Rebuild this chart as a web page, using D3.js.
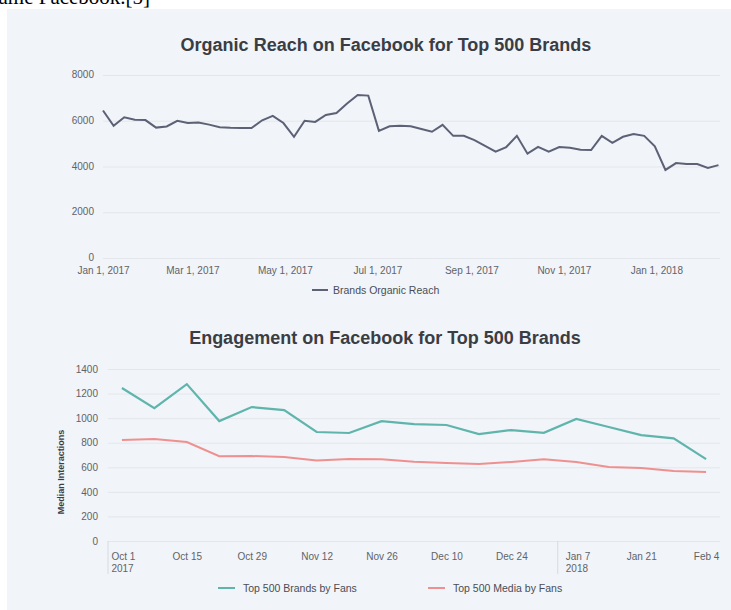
<!DOCTYPE html>
<html>
<head>
<meta charset="utf-8">
<script src="https://cdn.jsdelivr.net/npm/d3@7"></script>
<style>
  body { margin: 0; background: #fff; }
  text { font-family: "Liberation Sans", Arial, sans-serif; }
</style>
</head>
<body>
<div id="chart"></div>
<script>
// Organic reach, weekly values from Jan 1, 2017
var reachStart = "2017-01-01";
var reachValues = [6450, 5780, 6150, 6040, 6030, 5700, 5750, 6000, 5900, 5920,
  5830, 5720, 5690, 5680, 5680, 6020, 6210, 5900, 5300, 6000,
  5950, 6250, 6340, 6750, 7130, 7100, 5560, 5760, 5780, 5760,
  5640, 5520, 5820, 5340, 5340, 5150, 4900, 4650, 4850, 5340,
  4560, 4860, 4650, 4850, 4820, 4730, 4720, 5340, 5030, 5300,
  5420, 5340, 4880, 3850, 4150, 4110, 4110, 3940, 4060];
var reachTicks = ["2017-01-01", "2017-03-01", "2017-05-01", "2017-07-01", "2017-09-01", "2017-11-01", "2018-01-01"];
var reachYTicks = [0, 2000, 4000, 6000, 8000];

// Engagement, weekly
var engDates = ["2017-10-01", "2017-10-08", "2017-10-15", "2017-10-22", "2017-10-29", "2017-11-05",
  "2017-11-12", "2017-11-19", "2017-11-26", "2017-12-03", "2017-12-10", "2017-12-17",
  "2017-12-24", "2017-12-31", "2018-01-07", "2018-01-14", "2018-01-21", "2018-01-28", "2018-02-04"];
var brandsFans = [1245, 1082, 1277, 976, 1090, 1066, 887, 879, 975, 952, 944, 870, 903, 880, 993, 928, 862, 835, 667];
var mediaFans = [822, 830, 806, 690, 692, 683, 655, 667, 665, 645, 635, 626, 643, 665, 643, 602, 594, 570, 562];
var engTicks = ["2017-10-01", "2017-10-15", "2017-10-29", "2017-11-12", "2017-11-26", "2017-12-10",
  "2017-12-24", "2018-01-07", "2018-01-21", "2018-02-04"];
var engYTicks = [0, 200, 400, 600, 800, 1000, 1200, 1400];

var parse = d3.timeParse("%Y-%m-%d");

var svg = d3.select("#chart").append("svg")
  .attr("width", 731)
  .attr("height", 610);

// bit of the page text above the image
svg.append("text")
  .attr("x", -12)
  .attr("y", 4)
  .style("font-family", "'Liberation Serif', 'Times New Roman', serif")
  .style("font-size", "21px")
  .attr("fill", "#000")
  .text("name Facebook.[5]");

svg.append("rect")
  .attr("x", 7).attr("y", 9)
  .attr("width", 724).attr("height", 601)
  .attr("fill", "#f1f4f8");

var grid = "#e3e6eb", tickCol = "#5f6368";

// ---------- top chart ----------
var x1 = d3.scaleTime()
  .domain([parse("2017-01-01"), parse("2018-02-12")])
  .range([103, 720]);
var y1 = d3.scaleLinear().domain([0, 8000]).range([258, 75]);

var reach = reachValues.map((v, i) => ({date: d3.timeDay.offset(parse(reachStart), 7 * i), v: v}));

svg.append("g")
  .attr("transform", "translate(103,0)")
  .call(d3.axisLeft(y1).tickValues(reachYTicks).tickSize(-617).tickFormat(d3.format("d")))
  .call(g => g.select(".domain").remove())
  .call(g => g.selectAll("line").attr("stroke", grid))
  .call(g => g.selectAll("text").attr("x", -9).attr("dy", "0.25em").attr("fill", tickCol).style("font-size", "10px"));

svg.append("g")
  .attr("transform", "translate(0,258)")
  .call(d3.axisBottom(x1).tickValues(reachTicks.map(parse)).tickSize(0).tickFormat(d3.timeFormat("%b %-d, %Y")))
  .call(g => g.select(".domain").remove())
  .call(g => g.selectAll("text").attr("dy", "1.25em").attr("fill", tickCol).style("font-size", "10px"));

svg.append("path")
  .datum(reach)
  .attr("fill", "none")
  .attr("stroke", "#5c6176")
  .attr("stroke-width", 2)
  .attr("d", d3.line().x(d => x1(d.date)).y(d => y1(d.v)));

svg.append("text")
  .attr("x", 386).attr("y", 51)
  .attr("text-anchor", "middle")
  .style("font-size", "18px").style("font-weight", "bold")
  .attr("fill", "#3a3d44")
  .text("Organic Reach on Facebook for Top 500 Brands");

svg.append("line")
  .attr("x1", 312).attr("x2", 328).attr("y1", 290).attr("y2", 290)
  .attr("stroke", "#5c6176").attr("stroke-width", 2);
svg.append("text")
  .attr("x", 333).attr("y", 294)
  .style("font-size", "10.5px").attr("fill", "#4a4d55")
  .text("Brands Organic Reach");

// ---------- bottom chart ----------
var x2 = d3.scaleTime()
  .domain([parse("2017-09-28"), parse("2018-02-07")])
  .range([108, 720]);
var y2 = d3.scaleLinear().domain([0, 1400]).range([541, 369]);

svg.append("g")
  .attr("transform", "translate(108,0)")
  .call(d3.axisLeft(y2).tickValues(engYTicks).tickSize(-612).tickFormat(d3.format("d")))
  .call(g => g.select(".domain").remove())
  .call(g => g.selectAll("line").attr("stroke", grid))
  .call(g => g.selectAll("text").attr("x", -10).attr("fill", tickCol).style("font-size", "10px"));

// year dividers
svg.selectAll(".divider")
  .data([parse("2017-09-28"), parse("2018-01-03")])
  .enter().append("line")
  .attr("x1", d => x2(d)).attr("x2", d => x2(d))
  .attr("y1", 541).attr("y2", 574)
  .attr("stroke", "#d8dbe1");

var xa = svg.append("g")
  .attr("transform", "translate(0,541)")
  .call(d3.axisBottom(x2).tickValues(engTicks.map(parse)).tickSize(0).tickFormat(d3.timeFormat("%b %-d")))
  .call(g => g.select(".domain").remove());
xa.selectAll("text")
  .attr("dy", "1.6em").attr("fill", tickCol).style("font-size", "10px")
  .each(function(d, i) {
    if (i === 0 || d.getMonth() === 0 && d.getDate() <= 7) {
      var t = d3.select(this);
      t.attr("text-anchor", "start").attr("x", -11);
      t.append("tspan").attr("x", -11).attr("dy", "1.15em").text(d3.timeFormat("%Y")(d));
    }
  });

var eng = engDates.map((d, i) => ({date: parse(d), a: brandsFans[i], b: mediaFans[i]}));

svg.append("path")
  .datum(eng)
  .attr("fill", "none")
  .attr("stroke", "#ef9090")
  .attr("stroke-width", 2)
  .attr("d", d3.line().x(d => x2(d.date)).y(d => y2(d.b)));

svg.append("path")
  .datum(eng)
  .attr("fill", "none")
  .attr("stroke", "#5fb5ac")
  .attr("stroke-width", 2.2)
  .attr("d", d3.line().x(d => x2(d.date)).y(d => y2(d.a)));

svg.append("text")
  .attr("x", 385).attr("y", 344)
  .attr("text-anchor", "middle")
  .style("font-size", "18px").style("font-weight", "bold")
  .attr("fill", "#3a3d44")
  .text("Engagement on Facebook for Top 500 Brands");

svg.append("text")
  .attr("transform", "translate(64,472) rotate(-90)")
  .attr("text-anchor", "middle")
  .style("font-size", "9px").style("font-weight", "bold")
  .attr("fill", "#3a3d44")
  .text("Median Interactions");

var legend = [
  {name: "Top 500 Brands by Fans", color: "#5fb5ac", x: 218},
  {name: "Top 500 Media by Fans", color: "#ef9090", x: 428}
];
legend.forEach(function(l) {
  svg.append("line")
    .attr("x1", l.x).attr("x2", l.x + 17).attr("y1", 588).attr("y2", 588)
    .attr("stroke", l.color).attr("stroke-width", 2);
  svg.append("text")
    .attr("x", l.x + 25).attr("y", 592)
    .style("font-size", "10.5px").attr("fill", "#4a4d55")
    .text(l.name);
});
</script>
</body>
</html>
